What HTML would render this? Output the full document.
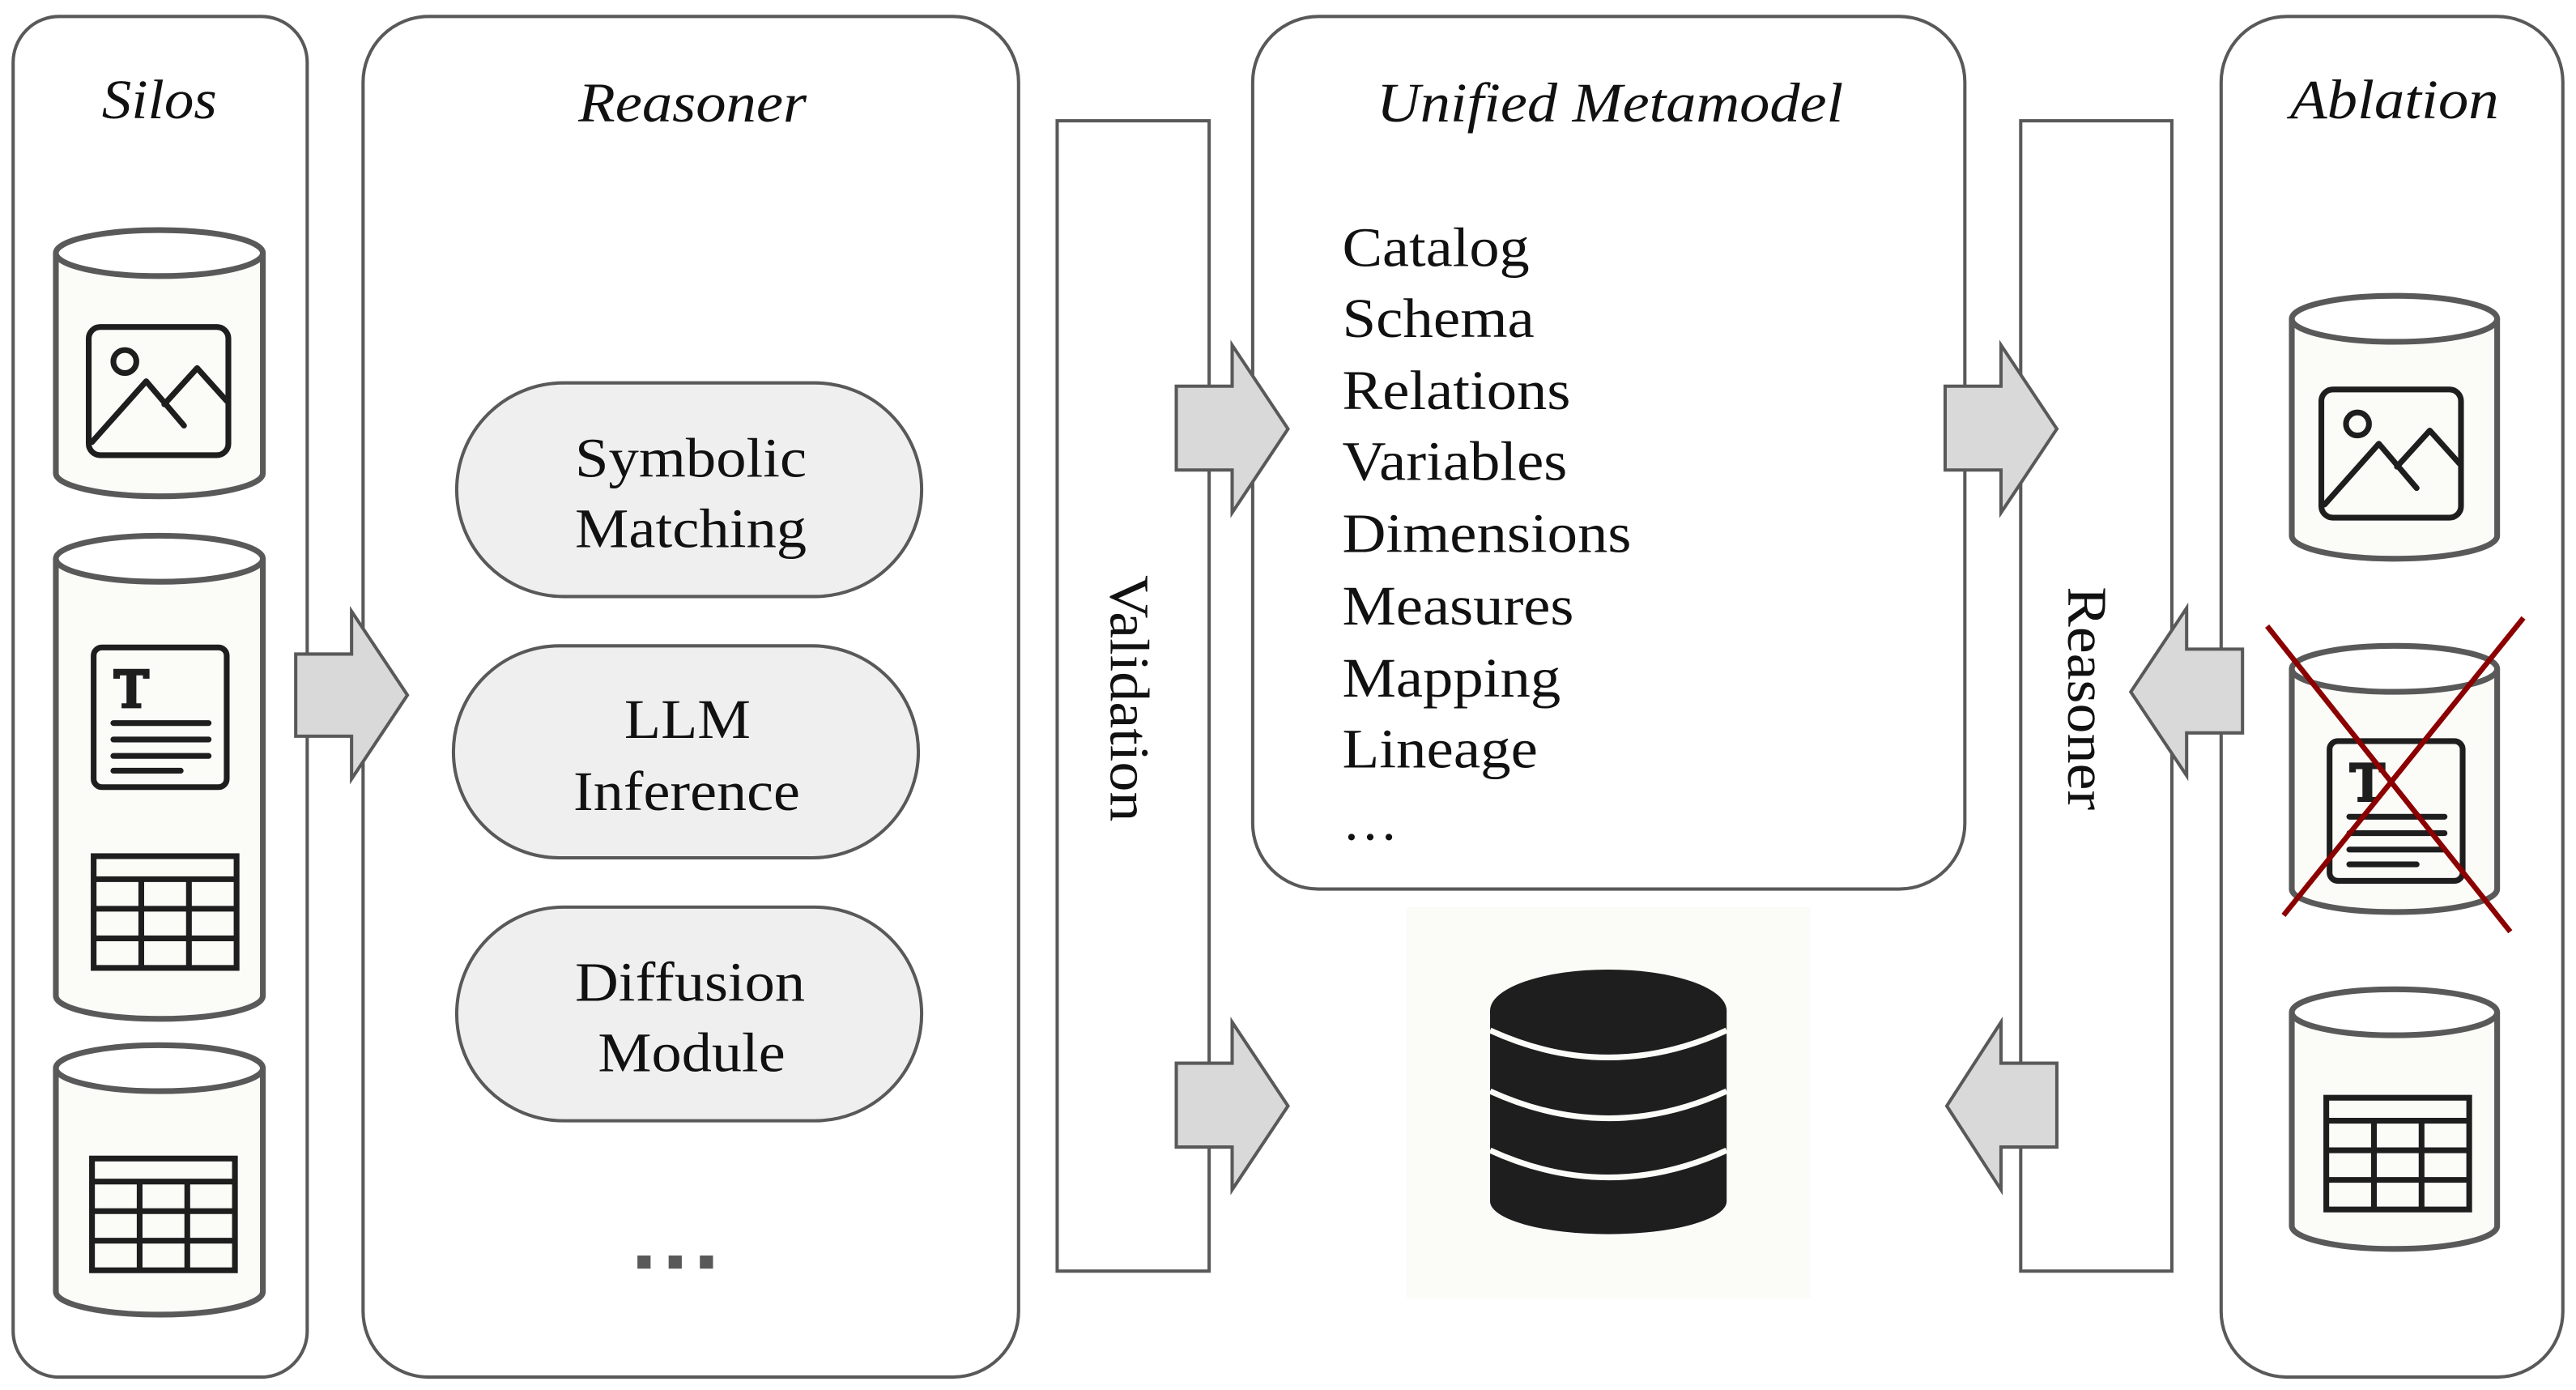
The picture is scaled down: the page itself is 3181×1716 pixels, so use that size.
<!DOCTYPE html>
<html><head><meta charset="utf-8"><style>
html,body{margin:0;padding:0;background:#fff;}
svg{display:block;}
text{font-family:"Liberation Serif",serif;fill:#111;}
</style></head><body>
<svg width="3181" height="1716" viewBox="0 0 1568 845.85" preserveAspectRatio="none" xmlns="http://www.w3.org/2000/svg">
<defs>
<g id="imgicon">
 <rect x="0" y="0" width="85" height="78" rx="7" fill="none" stroke="#1e1e1e" stroke-width="3.5"/>
 <circle cx="22" cy="21" r="7" fill="none" stroke="#1e1e1e" stroke-width="3.5"/>
 <path d="M2,70 L35,33 L58,60 M46,47 L66,25 L84,45" fill="none" stroke="#1e1e1e" stroke-width="3.5" stroke-linecap="round" stroke-linejoin="round"/>
</g>
<g id="docicon">
 <rect x="0" y="0" width="81" height="85" rx="5" fill="none" stroke="#1e1e1e" stroke-width="3.5"/>
 <path d="M12,13 L34,13 L34,19 L30,19 L30,17 L26,17 L26,34 L29,34 L29,37 L17,37 L17,34 L20,34 L20,17 L16,17 L16,19 L12,19 Z" fill="#1e1e1e"/>
 <path d="M12,46 H70 M12,56 H70 M12,66 H70 M12,75 H53" stroke="#1e1e1e" stroke-width="3.5" stroke-linecap="round"/>
</g>
<g id="tblicon">
 <rect x="0" y="0" width="87" height="68" fill="none" stroke="#1e1e1e" stroke-width="3.5"/>
 <path d="M0,14 H87 M0,32 H87 M0,50 H87 M29,14 V68 M58,14 V68" stroke="#1e1e1e" stroke-width="3.5"/>
</g>
</defs>

<rect x="8" y="10" width="179" height="828" rx="28" fill="#fff" stroke="#595959" stroke-width="2"/>
<rect x="221" y="10" width="399" height="828" rx="40" fill="#fff" stroke="#595959" stroke-width="2"/>
<rect x="643.5" y="73.5" width="92.5" height="700" fill="#fff" stroke="#595959" stroke-width="2"/>
<rect x="762.5" y="10" width="433.5" height="531" rx="40" fill="#fff" stroke="#595959" stroke-width="2"/>
<rect x="1230" y="73.5" width="92" height="700" fill="#fff" stroke="#595959" stroke-width="2"/>
<rect x="1352" y="10" width="208" height="828" rx="40" fill="#fff" stroke="#595959" stroke-width="2"/>

<g font-size="34" font-style="italic" lengthAdjust="spacingAndGlyphs">
<text x="62" y="72" textLength="70" lengthAdjust="spacingAndGlyphs">Silos</text>
<text x="352" y="74" textLength="139" lengthAdjust="spacingAndGlyphs">Reasoner</text>
<text x="838" y="74" textLength="284" lengthAdjust="spacingAndGlyphs">Unified Metamodel</text>
<text x="1394" y="72" textLength="127" lengthAdjust="spacingAndGlyphs">Ablation</text>
</g>

<g stroke="#595959" stroke-width="3.5">
 <path d="M34,154 V288 A63,14 0 0 0 160,288 V154" fill="#fbfbf8"/>
 <ellipse cx="97" cy="154" rx="63" ry="14" fill="#fff"/>
 <path d="M34,340 V606 A63,14 0 0 0 160,606 V340" fill="#fbfbf8"/>
 <ellipse cx="97" cy="340" rx="63" ry="14" fill="#fff"/>
 <path d="M34,650 V786 A63,14 0 0 0 160,786 V650" fill="#fbfbf8"/>
 <ellipse cx="97" cy="650" rx="63" ry="14" fill="#fff"/>
</g>
<use href="#imgicon" transform="translate(54,199)"/>
<use href="#docicon" transform="translate(57,394)"/>
<use href="#tblicon" transform="translate(57,521)"/>
<use href="#tblicon" transform="translate(56,705)"/>

<g fill="#d9d9d9" stroke="#595959" stroke-width="2">
 <path d="M180,398 H214 V372 L248,423 L214,474 V448 H180 Z"/>
 <path d="M716,235 H750 V210 L784,261 L750,312 V286 H716 Z"/>
 <path d="M716,647 H750 V622 L784,673 L750,724 V698 H716 Z"/>
 <path d="M1184,235 H1218 V210 L1252,261 L1218,312 V286 H1184 Z"/>
 <path d="M1252,647 H1218 V622 L1185,673 L1218,724 V698 H1252 Z"/>
 <path d="M1365,395 H1331 V370 L1297,421 L1331,472 V446 H1365 Z"/>
</g>

<g fill="#efefef" stroke="#595959" stroke-width="2">
 <rect x="278" y="233" width="283" height="130" rx="65"/>
 <rect x="276" y="393" width="283" height="129" rx="64.5"/>
 <rect x="278" y="552" width="283" height="130" rx="65"/>
</g>
<g font-size="34">
 <text x="350" y="290" textLength="141" lengthAdjust="spacingAndGlyphs">Symbolic</text>
 <text x="350" y="333" textLength="141" lengthAdjust="spacingAndGlyphs">Matching</text>
 <text x="380" y="449" textLength="77" lengthAdjust="spacingAndGlyphs">LLM</text>
 <text x="349" y="493" textLength="138" lengthAdjust="spacingAndGlyphs">Inference</text>
 <text x="350" y="609" textLength="140" lengthAdjust="spacingAndGlyphs">Diffusion</text>
 <text x="364" y="652" textLength="114" lengthAdjust="spacingAndGlyphs">Module</text>
</g>
<g fill="#595959">
 <rect x="388" y="764" width="8" height="8"/>
 <rect x="407" y="764" width="8" height="8"/>
 <rect x="426" y="764" width="8" height="8"/>
</g>

<text transform="translate(676,350) rotate(90)" font-size="34" textLength="150" lengthAdjust="spacingAndGlyphs">Validation</text>
<text transform="translate(1259,357) rotate(90)" font-size="34" textLength="136" lengthAdjust="spacingAndGlyphs">Reasoner</text>

<g font-size="34">
 <text x="817" y="162" textLength="114" lengthAdjust="spacingAndGlyphs">Catalog</text>
 <text x="817" y="205" textLength="117" lengthAdjust="spacingAndGlyphs">Schema</text>
 <text x="817" y="249" textLength="139" lengthAdjust="spacingAndGlyphs">Relations</text>
 <text x="817" y="292" textLength="137" lengthAdjust="spacingAndGlyphs">Variables</text>
 <text x="817" y="336" textLength="176" lengthAdjust="spacingAndGlyphs">Dimensions</text>
 <text x="817" y="380" textLength="141" lengthAdjust="spacingAndGlyphs">Measures</text>
 <text x="817" y="424" textLength="133" lengthAdjust="spacingAndGlyphs">Mapping</text>
 <text x="817" y="467" textLength="119" lengthAdjust="spacingAndGlyphs">Lineage</text>
 <text x="817" y="511">…</text>
</g>

<rect x="856" y="552" width="246" height="238" fill="#fbfbf8"/>
<path d="M907,615 V731 A72,20 0 0 0 1051,731 V615 Z" fill="#1e1e1e"/>
<ellipse cx="979" cy="615" rx="72" ry="25" fill="#1e1e1e"/>
<g fill="none" stroke="#fbfbf8" stroke-width="3.5">
 <path d="M907,627 Q979,660 1051,627"/>
 <path d="M907,664 Q979,697 1051,664"/>
 <path d="M907,700 Q979,733 1051,700"/>
</g>

<g stroke="#595959" stroke-width="3.5">
 <path d="M1395,194 V326 A62.5,14 0 0 0 1520,326 V194" fill="#fbfbf8"/>
 <ellipse cx="1457.5" cy="194" rx="62.5" ry="14" fill="#fff"/>
 <path d="M1395,407 V541 A62.5,14 0 0 0 1520,541 V407" fill="#fbfbf8"/>
 <ellipse cx="1457.5" cy="407" rx="62.5" ry="14" fill="#fff"/>
 <path d="M1395,616 V746 A62.5,14 0 0 0 1520,746 V616" fill="#fbfbf8"/>
 <ellipse cx="1457.5" cy="616" rx="62.5" ry="14" fill="#fff"/>
</g>
<use href="#imgicon" transform="translate(1413,237)"/>
<use href="#docicon" transform="translate(1418,451)"/>
<use href="#tblicon" transform="translate(1416,668)"/>
<g stroke="#8b0000" stroke-width="3.2">
 <line x1="1380" y1="381" x2="1528" y2="567"/>
 <line x1="1536" y1="376" x2="1390" y2="557"/>
</g>
</svg>
</body></html>
